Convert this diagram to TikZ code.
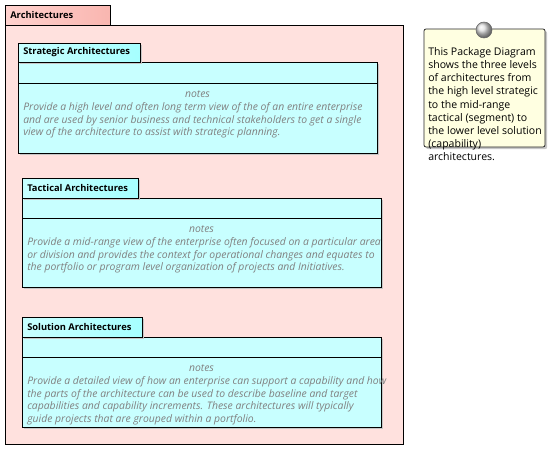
\documentclass[tikz,border=0pt]{standalone}
\usepackage{fontspec}
\setmainfont{Open Sans}
\usetikzlibrary{shadows,fit}
\definecolor{pinkbg}{HTML}{FFE1DE}
\definecolor{pinktabL}{HTML}{FFD2CE}
\definecolor{pinktabR}{HTML}{F9B6B0}
\definecolor{cyanbg}{HTML}{C8FFFF}
\definecolor{cyantabL}{HTML}{C8FFFF}
\definecolor{cyantabR}{HTML}{A6FFFF}
\definecolor{notebg}{HTML}{FFFFE1}
\definecolor{notegray}{HTML}{808080}
\tikzset{
  x=0.75pt, y=-0.75pt,
  shd/.style={drop shadow={shadow xshift=1.6pt, shadow yshift=-1.6pt, fill=black!22, opacity=1}},
  outerbody/.style={draw=black, line width=0.75pt, fill=pinkbg, inner sep=0pt},
  outertab/.style={draw=black, line width=0.75pt, left color=pinktabL, right color=pinktabR, inner sep=0pt},
  pbody/.style={draw=black, line width=0.75pt, fill=cyanbg, inner sep=0pt, shd},
  ptab/.style={draw=black, line width=0.75pt, left color=cyantabL, right color=cyantabR, inner sep=0pt, shd},
  title/.style={font=\bfseries\fontsize{7}{8}\selectfont, anchor=west, inner sep=0pt},
  notestxt/.style={font=\itshape\fontsize{7.8}{9.6}\selectfont, text=notegray, align=left, anchor=north west, inner sep=0pt},
  noteshead/.style={font=\itshape\fontsize{7.8}{9.6}\selectfont, text=notegray, anchor=base, inner sep=0pt},
  note/.style={draw=black!85, line width=0.6pt, fill=notebg, rounded corners=1.5pt, inner sep=0pt, shd},
  notetext/.style={font=\fontsize{7.9}{9.8}\selectfont, align=left, anchor=north west, inner sep=0pt},
  divider/.style={draw=black, line width=0.75pt}
}
\begin{document}
\begin{tikzpicture}
\useasboundingbox (0,0) rectangle (550,450);
% outer package
\node[outerbody, fit={(5,25) (403,444)}] (outer) {};
\node[outertab, fit={(5,5) (110,25)}] (outertab) {};
\node[title] (outertitle) at (10,15) {Architectures};

% strategic
\node[pbody, fit={(18,62) (377,153)}] (strat) {};
\node[ptab, fit={(18,43) (140,62)}] (strattab) {};
\node[title] (strattitle) at (23,52.5) {Strategic Architectures};
\coordinate (sdl) at (18,83);
\coordinate (sdr) at (377,83);
\draw[divider] (sdl) -- (sdr);
\node[noteshead] (stratnotes) at (197.5,97) {notes};
\node[notestxt] (strattext) at (23,102) {Provide a high level and often long term view of the of an entire enterprise\\and are used by senior business and technical stakeholders to get a single\\view of the architecture to assist with strategic planning.};

% tactical
\node[pbody, fit={(22,198) (381,287)}] (tact) {};
\node[ptab, fit={(22,178) (138,198)}] (tacttab) {};
\node[title] (tacttitle) at (27,187.5) {Tactical Architectures};
\coordinate (tdl) at (22,218);
\coordinate (tdr) at (381,218);
\draw[divider] (tdl) -- (tdr);
\node[noteshead] (tactnotes) at (201.5,232) {notes};
\node[notestxt] (tacttext) at (27,237) {Provide a mid-range view of the enterprise often focused on a particular area\\or division and provides the context for operational changes and equates to\\the portfolio or program level organization of projects and Initiatives.};

% solution
\node[pbody, fit={(22,337) (381,427)}] (sol) {};
\node[ptab, fit={(22,317) (142,337)}] (soltab) {};
\node[title] (soltitle) at (27,326.5) {Solution Architectures};
\coordinate (odl) at (22,357);
\coordinate (odr) at (381,357);
\draw[divider] (odl) -- (odr);
\node[noteshead] (solnotes) at (201.5,371) {notes};
\node[notestxt] (soltext) at (27,376) {Provide a detailed view of how an enterprise can support a capability and how\\the parts of the architecture can be used to describe baseline and target\\capabilities and capability increments. These architectures will typically\\guide projects that are grouped within a portfolio.};

% note
\node[note, fit={(424,29) (545,147)}] (note) {};
\shade[ball color=gray!25] (484,30) circle (6pt);
\draw[black!60, line width=0.4pt] (484,30) circle (6pt);
\node[notetext] (notetxt) at (428,47.5) {This Package Diagram\\shows the three levels\\of architectures from\\the high level strategic\\to the mid-range\\tactical (segment) to\\the lower level solution\\(capability)\\architectures.};
\end{tikzpicture}
\end{document}
